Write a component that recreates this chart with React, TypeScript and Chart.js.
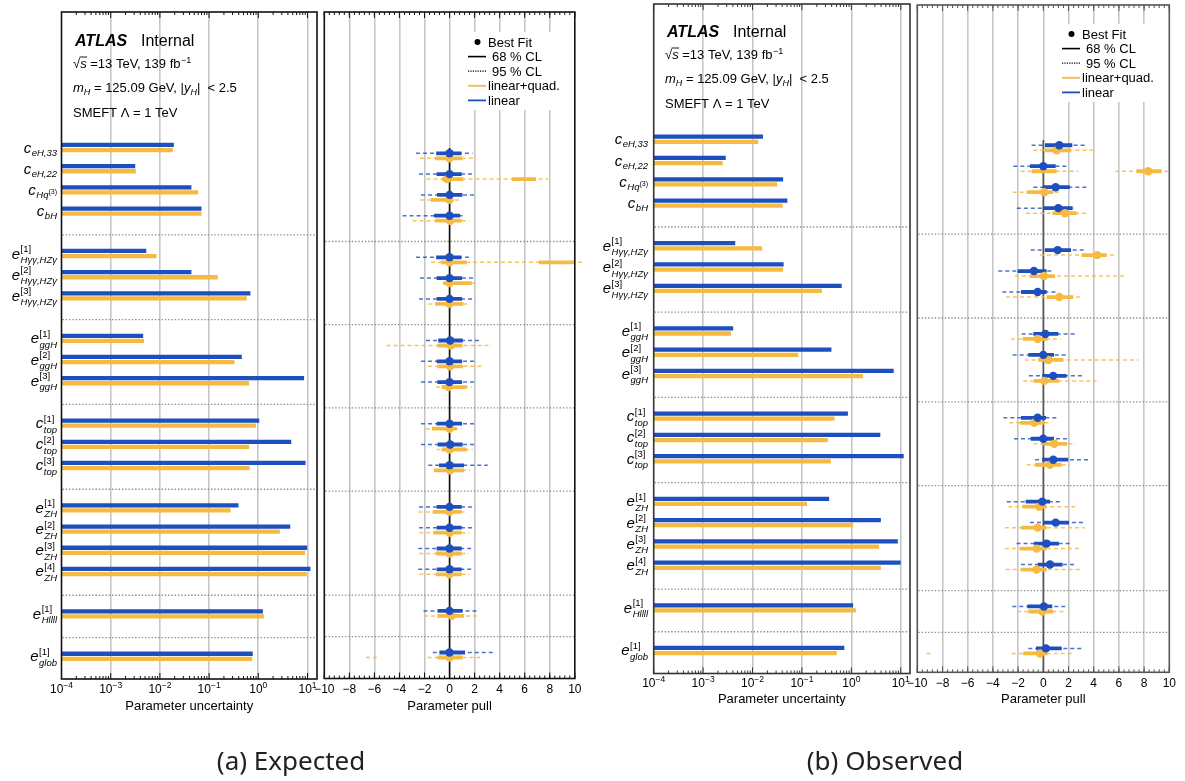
import React, { useEffect, useRef } from "react";
import { Chart, registerables } from "chart.js";

Chart.register(...registerables);

const W = 1185;
const H = 781;
const FONT = '"Liberation Sans", Arial, Helvetica, sans-serif';
const BLUE = "#1e4fbe";
const ORANGE = "#f6ba42";
const BLUE_DASH = "rgba(30,79,190,0.8)";
const ORANGE_DASH = "rgba(246,186,66,0.85)";
const GRID = "#c6c6c6";

// ---------------- categories ----------------
type Lbl = { b: string; sup?: string; sub: string; subSup?: string };
const paramLabels: Lbl[] = [
  { b: "c", sub: "eH,33" },
  { b: "c", sub: "eH,22" },
  { b: "c", sub: "Hq", subSup: "(3)" },
  { b: "c", sub: "bH" },
  { b: "e", sup: "[1]", sub: "Hγγ,HZγ" },
  { b: "e", sup: "[2]", sub: "Hγγ,HZγ" },
  { b: "e", sup: "[3]", sub: "Hγγ,HZγ" },
  { b: "e", sup: "[1]", sub: "ggH" },
  { b: "e", sup: "[2]", sub: "ggH" },
  { b: "e", sup: "[3]", sub: "ggH" },
  { b: "c", sup: "[1]", sub: "top" },
  { b: "c", sup: "[2]", sub: "top" },
  { b: "c", sup: "[3]", sub: "top" },
  { b: "e", sup: "[1]", sub: "ZH" },
  { b: "e", sup: "[2]", sub: "ZH" },
  { b: "e", sup: "[3]", sub: "ZH" },
  { b: "e", sup: "[4]", sub: "ZH" },
  { b: "e", sup: "[1]", sub: "Hllll" },
  { b: "e", sup: "[1]", sub: "glob" },
];
const rowPos = [0, 1, 2, 3, 5, 6, 7, 9, 10, 11, 13, 14, 15, 17, 18, 19, 20, 22, 24];
const groupSeparators = [4, 8, 12, 16, 21, 23];

// ---------------- parameter uncertainty ----------------
const expUncLinear = [0.0189, 0.0031, 0.043, 0.069, 0.0052, 0.043, 0.68, 0.0045, 0.455, 8.4, 1.03, 4.6, 9.0, 0.39, 4.4, 9.7, 11.3, 1.22, 0.76];
const expUncQuad = [0.018, 0.0032, 0.059, 0.069, 0.0084, 0.148, 0.575, 0.0047, 0.323, 0.64, 0.88, 0.64, 0.66, 0.27, 2.7, 8.8, 9.5, 1.28, 0.74];
const obsUncLinear = [0.016, 0.00283, 0.041, 0.05, 0.0044, 0.042, 0.63, 0.004, 0.39, 7.1, 0.84, 3.8, 11.3, 0.35, 3.9, 8.6, 9.8, 1.07, 0.71];
const obsUncQuad = [0.0129, 0.00246, 0.031, 0.04, 0.0155, 0.041, 0.25, 0.0036, 0.083, 1.69, 0.45, 0.33, 0.38, 0.125, 1.07, 3.6, 3.9, 1.22, 0.5];

// ---------------- parameter pulls: expected ----------------
const expBestLinear = [0, 0, 0, 0, 0, 0, 0, 0.05, 0, 0, 0, 0.05, 0, 0, 0, 0, 0, 0, 0];
const expCL68Linear = [[-1.07, 0.95], [-1.03, 0.97], [-1.0, 1.03], [-1.24, 0.84], [-1.07, 0.95], [-1.03, 1.0], [-1.03, 1.0], [-0.9, 1.05], [-1.03, 1.0], [-0.97, 1.0], [-1.03, 1.0], [-0.95, 1.05], [-0.84, 1.16], [-1.03, 0.97], [-1.03, 0.97], [-1.03, 0.97], [-1.03, 0.97], [-0.95, 1.05], [-0.81, 1.24]];
const expCL95Linear = [[-2.68, 1.83], [-2.44, 2.0], [-2.28, 2.17], [-3.75, 1.27], [-2.68, 1.8], [-2.36, 2.1], [-2.44, 2.05], [-1.88, 2.52], [-2.28, 2.17], [-2.28, 2.17], [-2.28, 2.17], [-2.28, 2.17], [-1.7, 3.05], [-2.44, 2.05], [-2.44, 2.05], [-2.5, 1.95], [-2.5, 1.95], [-2.08, 2.38], [-1.34, 3.5]];
const expBestQuad = [0, -0.2, 0, 0.05, 0, 0, 0, 0.1, 0.05, -0.07, 0, 0, 0.05, 0, 0, 0, 0, 0.17, 0];
const expCL68Quad = [[[-1.15, 1.03]], [[-0.6, 1.1], [4.97, 6.9]], [[-1.5, 0.15]], [[-1.15, 0.97]], [[-0.7, 1.37], [7.13, 10]], [[-0.5, 1.77]], [[-1.15, 1.1]], [[-0.97, 1.03]], [[-0.97, 1.05]], [[-0.63, 1.37]], [[-1.4, 0.57]], [[-0.63, 1.37]], [[-1.24, 1.16]], [[-1.34, 0.97]], [[-1.29, 0.97]], [[-1.08, 0.97]], [[-1.08, 0.97]], [[-0.97, 1.16]], [[-0.97, 1.05]]];
const expCL95Quad = [[[-2.36, 1.96]], [[-1.83, 7.9]], [[-2.36, 0.84]], [[-2.95, 1.56]], [[-1.48, 10.8]], [[-0.55, 2.2]], [[-1.7, 1.5]], [[-5.03, 3.37]], [[-1.7, 2.65]], [[-1.08, 1.8]], [[-1.88, 0.97]], [[-1.03, 1.85]], [[-1.24, 1.64]], [[-2.47, 1.45]], [[-2.41, 1.56]], [[-2.41, 1.56]], [[-2.41, 1.56]], [[-2.03, 2.17]], [[-6.67, -5.55], [-1.77, 2.43]]];

// ---------------- parameter pulls: observed ----------------
const obsBestLinear = [1.27, 0, 0.98, 1.19, 1.14, -0.74, -0.45, 0.16, 0, 0.79, -0.45, 0, 0.79, -0.08, 0.98, 0.26, 0.53, 0.05, 0.21];
const obsCL68Linear = [[0.13, 2.3], [-1.06, 0.98], [0, 2.1], [0, 2.33], [0.13, 2.2], [-2.04, 0.26], [-1.77, 0.26], [-0.79, 1.19], [-1.19, 0.85], [-0.08, 1.85], [-1.77, 0.21], [-1.0, 0.85], [-0.08, 1.98], [-1.4, 0.53], [0, 2.04], [-0.74, 1.24], [-0.45, 1.53], [-1.27, 0.71], [-0.58, 1.46]];
const obsCL95Linear = [[-0.93, 3.44], [-2.38, 1.98], [-0.79, 3.57], [-2.1, 2.38], [-1.0, 3.3], [-3.57, 0.85], [-3.25, 1.14], [-1.72, 2.65], [-2.43, 1.93], [-1.14, 3.23], [-3.17, 1.24], [-2.33, 2.12], [-0.66, 3.78], [-2.9, 1.53], [-1.06, 3.3], [-2.12, 2.3], [-1.77, 2.59], [-2.46, 1.93], [-1.19, 3.23]];
const obsBestQuad = [1.06, 8.33, 0.08, 1.72, 4.29, 0.05, 1.27, -0.45, 0.4, 0.08, -0.71, 0.87, 0.53, -0.32, -0.45, -0.53, -0.53, -0.08, -0.26];
const obsCL68Quad = [[[0.13, 2.2]], [[-0.93, 1.06], [7.4, 9.4]], [[-1.32, 0.8]], [[0.74, 2.65]], [[3.04, 5.03]], [[-1.06, 0.93]], [[0.26, 2.38]], [[-1.64, 0.34]], [[-0.4, 1.59]], [[-0.74, 1.24]], [[-1.85, 0.13]], [[0, 1.9]], [[-0.66, 1.46]], [[-1.67, 0.26]], [[-1.77, 0.26]], [[-1.85, 0.26]], [[-1.77, 0.26]], [[-1.19, 0.79]], [[-1.59, 0.34]]];
const obsCL95Quad = [[[-0.79, 4.1]], [[-1.8, 2.78], [5.7, 10]], [[-2.43, 1.4]], [[-1.38, 3.62]], [[-0.26, 5.7]], [[-2.25, 6.6]], [[-2.96, 2.96]], [[-2.57, 1.38]], [[-1.46, 7.54]], [[-1.59, 4.23]], [[-2.7, 0.66]], [[-0.79, 2.57]], [[-1.32, 2.06]], [[-2.78, 2.65]], [[-3.04, 3.3]], [[-3.04, 3.04]], [[-2.99, 3.04]], [[-2.06, 1.85]], [[-9.26, -8.94], [-2.51, 2.46]]];

// ---------------- axis ticks ----------------
const logTickExps = [-4, -3, -2, -1, 0, 1];
const logGridValues = [1e-3, 1e-2, 1e-1, 1, 10];
const pullTickValues = [-10, -8, -6, -4, -2, 0, 2, 4, 6, 8, 10];
const pullGridValues = [-8, -6, -4, -2, 0, 2, 4, 6, 8];

// ---------------- panel geometry ----------------
const GEOM = {
  expUnc: { l: 61.5, r: 317, t: 12, b: 679, yMin: -6.392, yMax: 25.071, xMax: 15.6 },
  expPull: { l: 324.3, r: 574.8, t: 12, b: 678.5, yMin: -6.913, yMax: 25.13 },
  obsUnc: { l: 653.7, r: 910, t: 4, b: 673.5, yMin: -6.347, yMax: 25.08, xMax: 15.4 },
  obsPull: { l: 917.3, r: 1169.3, t: 5, b: 672.3, yMin: -6.81, yMax: 25.02 },
};

// ---------------- drawing helpers ----------------
function setFont(ctx: CanvasRenderingContext2D, size: number, style = "", family = FONT) {
  ctx.font = `${style} ${size}px ${family}`.trim();
}
type Part = { t: string; s: number; st?: string; dy?: number };
function partsWidth(ctx: CanvasRenderingContext2D, parts: Part[]) {
  let w = 0;
  for (const p of parts) {
    setFont(ctx, p.s, p.st || "");
    w += ctx.measureText(p.t).width;
  }
  return w;
}
function drawParts(ctx: CanvasRenderingContext2D, parts: Part[], x: number, y: number, align = "left") {
  const w = partsWidth(ctx, parts);
  let cx = align === "center" ? x - w / 2 : align === "right" ? x - w : x;
  ctx.textAlign = "left";
  ctx.textBaseline = "alphabetic";
  for (const p of parts) {
    setFont(ctx, p.s, p.st || "");
    ctx.fillText(p.t, cx, y + (p.dy || 0));
    cx += ctx.measureText(p.t).width;
  }
}

function drawParamLabel(ctx: CanvasRenderingContext2D, lbl: Lbl, xr: number, yc: number) {
  const BS = 15, SS = 9.5, SSS = 7;
  setFont(ctx, BS, "italic");
  const wb = ctx.measureText(lbl.b).width;
  setFont(ctx, SS, "italic");
  const wsubMain = ctx.measureText(lbl.sub).width;
  let wsubSup = 0;
  if (lbl.subSup) {
    setFont(ctx, SSS);
    wsubSup = ctx.measureText(lbl.subSup).width;
  }
  let wsup = 0;
  if (lbl.sup) {
    setFont(ctx, SS);
    wsup = ctx.measureText(lbl.sup).width;
  }
  const x0 = xr - wb - 0.5 - Math.max(wsubMain + wsubSup, wsup);
  ctx.fillStyle = "#000";
  ctx.textAlign = "left";
  ctx.textBaseline = "alphabetic";
  setFont(ctx, BS, "italic");
  ctx.fillText(lbl.b, x0, yc + 5);
  const xs = x0 + wb + 0.5;
  setFont(ctx, SS, "italic");
  ctx.fillText(lbl.sub, xs, yc + (lbl.sup ? 9.5 : 8));
  if (lbl.subSup) {
    setFont(ctx, SSS);
    ctx.fillText(lbl.subSup, xs + wsubMain, yc + 4);
  }
  if (lbl.sup) {
    setFont(ctx, SS);
    ctx.fillText(lbl.sup, xs, yc - 1.5);
  }
}

function drawAtlasBlock(ctx: CanvasRenderingContext2D, xAtlas: number, x: number, y: number) {
  ctx.fillStyle = "#000";
  ctx.textAlign = "left";
  ctx.textBaseline = "alphabetic";
  setFont(ctx, 16, "italic bold");
  ctx.fillText("ATLAS", xAtlas, y);
  setFont(ctx, 16);
  ctx.fillText("Internal", xAtlas + 66, y);
  // sqrt(s) line
  const y2 = y + 22;
  let cx = x;
  setFont(ctx, 13);
  ctx.fillText("√", cx, y2);
  cx += ctx.measureText("√").width;
  setFont(ctx, 13, "italic");
  const ws = ctx.measureText("s").width;
  ctx.fillText("s", cx, y2);
  ctx.strokeStyle = "#000";
  ctx.lineWidth = 0.9;
  ctx.setLineDash([]);
  ctx.beginPath();
  ctx.moveTo(cx - 0.5, y2 - 11);
  ctx.lineTo(cx + ws + 0.5, y2 - 11);
  ctx.stroke();
  cx += ws;
  setFont(ctx, 13);
  ctx.fillText(" =13 TeV, 139 fb", cx, y2);
  cx += ctx.measureText(" =13 TeV, 139 fb").width;
  setFont(ctx, 9);
  ctx.fillText("−1", cx + 0.5, y2 - 5);
  drawParts(
    ctx,
    [
      { t: "m", s: 13, st: "italic" },
      { t: "H", s: 9, st: "italic", dy: 3 },
      { t: " = 125.09 GeV, |", s: 13 },
      { t: "y", s: 13, st: "italic" },
      { t: "H", s: 9, st: "italic", dy: 3 },
      { t: "|  < 2.5", s: 13 },
    ],
    x,
    y + 46
  );
  setFont(ctx, 13);
  ctx.fillText("SMEFT Λ = 1 TeV", x, y + 71);
}

function drawFrame(ctx: CanvasRenderingContext2D, a: any, color: string) {
  ctx.save();
  ctx.strokeStyle = color;
  ctx.lineWidth = 1.6;
  ctx.setLineDash([]);
  ctx.strokeRect(a.left, a.top, a.right - a.left, a.bottom - a.top);
  ctx.restore();
}

function drawSeparators(ctx: CanvasRenderingContext2D, chart: any) {
  const a = chart.chartArea;
  const ys = chart.scales.y;
  ctx.save();
  ctx.strokeStyle = "#8c8c8c";
  ctx.lineWidth = 1.3;
  ctx.setLineDash([1.4, 1.9]);
  for (const s of groupSeparators) {
    const py = ys.getPixelForValue(s + 0.12);
    ctx.beginPath();
    ctx.moveTo(a.left + 1, py);
    ctx.lineTo(a.right - 1, py);
    ctx.stroke();
  }
  ctx.restore();
}

function drawTickMarks(ctx: CanvasRenderingContext2D, a: any, xs: number[], len: number, color: string) {
  ctx.save();
  ctx.strokeStyle = color;
  ctx.lineWidth = 1;
  ctx.setLineDash([]);
  ctx.beginPath();
  for (const px of xs) {
    ctx.moveTo(px, a.bottom);
    ctx.lineTo(px, a.bottom - len);
    ctx.moveTo(px, a.top);
    ctx.lineTo(px, a.top + len);
  }
  ctx.stroke();
  ctx.restore();
}

// ---------------- chart configs ----------------
function makeUncConfig(
  g: any,
  lin: number[],
  quad: number[],
  opts: { frame: string; labelX: number; atlasX: number; textX: number; atlasY: number; caption: string; captionX: number; tickY: number; titleY: number }
) {
  const deco = {
    id: "uncDeco",
    beforeDatasetsDraw(chart: any) {
      drawSeparators(chart.ctx, chart);
    },
    afterDatasetsDraw(chart: any) {
      const ctx = chart.ctx as CanvasRenderingContext2D;
      const a = chart.chartArea;
      const xs = chart.scales.x;
      const ys = chart.scales.y;
      const major: number[] = [];
      const minor: number[] = [];
      for (const e of logTickExps) {
        major.push(xs.getPixelForValue(Math.pow(10, e)));
        for (let m = 2; m <= 9; m++) {
          const v = m * Math.pow(10, e);
          if (v <= g.xMax) minor.push(xs.getPixelForValue(v));
        }
      }
      drawTickMarks(ctx, a, major, 6, opts.frame);
      drawTickMarks(ctx, a, minor, 3, opts.frame);
      drawFrame(ctx, a, opts.frame);
      ctx.fillStyle = "#000";
      for (const e of logTickExps) {
        const px = xs.getPixelForValue(Math.pow(10, e));
        const ex = e < 0 ? "−" + Math.abs(e) : String(e);
        drawParts(ctx, [{ t: "10", s: 12 }, { t: ex, s: 8.5, dy: -5 }], px, opts.tickY, "center");
      }
      setFont(ctx, 13);
      ctx.textAlign = "center";
      ctx.fillText("Parameter uncertainty", (a.left + a.right) / 2, opts.titleY);
      paramLabels.forEach((lbl, i) => {
        drawParamLabel(ctx, lbl, opts.labelX, ys.getPixelForValue(rowPos[i]));
      });
      drawAtlasBlock(ctx, opts.atlasX, opts.textX, opts.atlasY);
      ctx.fillStyle = "#222";
      ctx.textAlign = "center";
      ctx.font = '26px "Noto Sans", "Open Sans", sans-serif';
      ctx.fillText(opts.caption, opts.captionX, 770);
    },
  };
  return {
    type: "bar",
    data: {
      datasets: [
        {
          label: "linear",
          data: lin.map((v, i) => ({ x: v, y: rowPos[i] - 0.12 })),
          backgroundColor: BLUE,
          borderWidth: 0,
          barThickness: 3.6,
          grouped: false,
          base: 1e-4,
          order: 2,
        },
        {
          label: "linear+quad.",
          data: quad.map((v, i) => ({ x: v, y: rowPos[i] + 0.12 })),
          backgroundColor: ORANGE,
          borderWidth: 0,
          barThickness: 3.6,
          grouped: false,
          base: 1e-4,
          order: 1,
        },
      ],
    },
    options: {
      indexAxis: "y",
      responsive: false,
      animation: false,
      devicePixelRatio: 1,
      events: [],
      layout: { padding: { left: g.l, right: W - g.r, top: g.t, bottom: H - g.b } },
      plugins: { legend: { display: false }, tooltip: { enabled: false } },
      scales: {
        x: {
          type: "logarithmic",
          position: "bottom",
          min: 1e-4,
          max: g.xMax,
          afterBuildTicks: (s: any) => {
            s.ticks = logGridValues.map((v) => ({ value: v }));
          },
          afterFit: (s: any) => {
            s.height = 0;
          },
          ticks: { display: false },
          grid: { color: GRID, lineWidth: 1.6, drawTicks: false },
          border: { display: false },
        },
        y: {
          type: "linear",
          min: g.yMin,
          max: g.yMax,
          reverse: true,
          display: false,
          offset: false,
          grid: { offset: false },
        },
      },
    },
    plugins: [deco],
  };
}

function segLine(segs: number[][][], pos: number[]) {
  const out: any[] = [];
  segs.forEach((list, i) =>
    list.forEach(([a, b]) => {
      out.push({ x: a, y: pos[i] }, { x: b, y: pos[i] }, { x: null, y: null });
    })
  );
  return out;
}

function makePullConfig(
  g: any,
  bestLin: number[],
  c68Lin: number[][],
  c95Lin: number[][],
  bestQuad: number[],
  c68Quad: number[][][],
  c95Quad: number[][][],
  opts: { frame: string; zero: string; legX: number; legY: number; tickY: number; titleY: number }
) {
  const posL = rowPos.map((r) => r - 0.12);
  const posQ = rowPos.map((r) => r + 0.12);
  const line = (data: any[], color: string, w: number, dash: number[], order: number) => ({
    data,
    showLine: true,
    borderColor: color,
    borderWidth: w,
    borderDash: dash,
    borderCapStyle: "butt",
    pointRadius: 0,
    pointHoverRadius: 0,
    spanGaps: false,
    clip: false,
    order,
  });
  const dots = (data: any[], color: string, order: number) => ({
    data,
    showLine: false,
    pointRadius: 4.2,
    pointHoverRadius: 4.2,
    pointBackgroundColor: color,
    backgroundColor: color,
    pointBorderWidth: 0,
    borderWidth: 0,
    order,
  });
  const deco = {
    id: "pullDeco",
    beforeDatasetsDraw(chart: any) {
      const ctx = chart.ctx as CanvasRenderingContext2D;
      const a = chart.chartArea;
      const xs = chart.scales.x;
      const ys = chart.scales.y;
      ctx.save();
      ctx.fillStyle = "#fff";
      ctx.fillRect(opts.legX - 5, opts.legY - 10, 109, 78);
      ctx.restore();
      drawSeparators(ctx, chart);
      ctx.save();
      ctx.strokeStyle = opts.zero;
      ctx.lineWidth = 1.6;
      ctx.beginPath();
      const px = xs.getPixelForValue(0);
      ctx.moveTo(px, ys.getPixelForValue(-0.37));
      ctx.lineTo(px, a.bottom);
      ctx.stroke();
      ctx.restore();
    },
    afterDatasetsDraw(chart: any) {
      const ctx = chart.ctx as CanvasRenderingContext2D;
      const a = chart.chartArea;
      const xs = chart.scales.x;
      const major = pullTickValues.map((v) => xs.getPixelForValue(v));
      const minor: number[] = [];
      for (let v = -10; v <= 10.001; v += 0.4) minor.push(xs.getPixelForValue(v));
      drawTickMarks(ctx, a, major, 6, opts.frame);
      drawTickMarks(ctx, a, minor, 3, opts.frame);
      drawFrame(ctx, a, opts.frame);
      ctx.fillStyle = "#000";
      ctx.textAlign = "center";
      ctx.textBaseline = "alphabetic";
      setFont(ctx, 12);
      for (const v of pullTickValues) {
        const t = v < 0 ? "−" + Math.abs(v) : String(v);
        ctx.fillText(t, xs.getPixelForValue(v), opts.tickY);
      }
      setFont(ctx, 13);
      ctx.fillText("Parameter pull", (a.left + a.right) / 2, opts.titleY);
      const x0 = opts.legX;
      const y0 = opts.legY;
      const dy = 14.6;
      ctx.save();
      ctx.fillStyle = "#000";
      ctx.beginPath();
      ctx.arc(x0 + 9.5, y0, 3, 0, Math.PI * 2);
      ctx.fill();
      const seg = (y: number, color: string, w: number, dash: number[]) => {
        ctx.strokeStyle = color;
        ctx.lineWidth = w;
        ctx.setLineDash(dash);
        ctx.beginPath();
        ctx.moveTo(x0, y);
        ctx.lineTo(x0 + 18, y);
        ctx.stroke();
      };
      seg(y0 + dy, "#000", 1.6, []);
      seg(y0 + 2 * dy, "#000", 1.2, [1.2, 1.2]);
      seg(y0 + 3 * dy, ORANGE, 1.8, []);
      seg(y0 + 4 * dy, BLUE, 1.8, []);
      ctx.setLineDash([]);
      ctx.fillStyle = "#000";
      ctx.textAlign = "left";
      setFont(ctx, 13);
      ctx.fillText("Best Fit", x0 + 20, y0 + 4.5);
      ctx.fillText("68 % CL", x0 + 24, y0 + dy + 4.5);
      ctx.fillText("95 % CL", x0 + 24, y0 + 2 * dy + 4.5);
      ctx.fillText("linear+quad.", x0 + 20, y0 + 3 * dy + 4.5);
      ctx.fillText("linear", x0 + 20, y0 + 4 * dy + 4.5);
      ctx.restore();
    },
  };
  return {
    type: "scatter",
    data: {
      datasets: [
        line(segLine(c95Quad, posQ), ORANGE_DASH, 1.5, [4, 3], 6),
        line(segLine(c95Lin.map((s) => [s]), posL), BLUE_DASH, 1.5, [4, 3], 5),
        line(segLine(c68Quad, posQ), ORANGE, 3.8, [], 4),
        line(segLine(c68Lin.map((s) => [s]), posL), BLUE, 3.8, [], 3),
        dots(bestQuad.map((v, i) => ({ x: v, y: posQ[i] })), ORANGE, 2),
        dots(bestLin.map((v, i) => ({ x: v, y: posL[i] })), BLUE, 1),
      ],
    },
    options: {
      responsive: false,
      animation: false,
      devicePixelRatio: 1,
      events: [],
      layout: { padding: { left: g.l, right: W - g.r, top: g.t, bottom: H - g.b } },
      plugins: { legend: { display: false }, tooltip: { enabled: false } },
      scales: {
        x: {
          type: "linear",
          position: "bottom",
          min: -10,
          max: 10,
          afterBuildTicks: (s: any) => {
            s.ticks = pullGridValues.map((v) => ({ value: v }));
          },
          afterFit: (s: any) => {
            s.height = 0;
          },
          ticks: { display: false },
          grid: { color: GRID, lineWidth: 1.6, drawTicks: false },
          border: { display: false },
        },
        y: {
          type: "linear",
          min: g.yMin,
          max: g.yMax,
          reverse: true,
          display: false,
        },
      },
    },
    plugins: [deco],
  };
}

const makers: (() => any)[] = [
  () =>
    makeUncConfig(GEOM.expUnc, expUncLinear, expUncQuad, {
      frame: "#111",
      labelX: 57,
      atlasX: 75,
      textX: 73,
      atlasY: 46,
      caption: "(a) Expected",
      captionX: 291,
      tickY: 693,
      titleY: 710,
    }),
  () =>
    makePullConfig(GEOM.expPull, expBestLinear, expCL68Linear, expCL95Linear, expBestQuad, expCL68Quad, expCL95Quad, {
      frame: "#111",
      zero: "#111",
      legX: 468,
      legY: 42,
      tickY: 693,
      titleY: 710,
    }),
  () =>
    makeUncConfig(GEOM.obsUnc, obsUncLinear, obsUncQuad, {
      frame: "#333",
      labelX: 648,
      atlasX: 667,
      textX: 665,
      atlasY: 37,
      caption: "(b) Observed",
      captionX: 885,
      tickY: 687,
      titleY: 703,
    }),
  () =>
    makePullConfig(GEOM.obsPull, obsBestLinear, obsCL68Linear, obsCL95Linear, obsBestQuad, obsCL68Quad, obsCL95Quad, {
      frame: "#555",
      zero: "#555",
      legX: 1062,
      legY: 34,
      tickY: 687,
      titleY: 703,
    }),
];

function ChartLayer({ make }: { make: () => any }) {
  const ref = useRef<HTMLCanvasElement>(null);
  useEffect(() => {
    const chart = new Chart(ref.current as HTMLCanvasElement, make());
    return () => chart.destroy();
  }, [make]);
  return (
    <canvas
      ref={ref}
      width={W}
      height={H}
      style={{ position: "absolute", left: 0, top: 0, width: W, height: H }}
    />
  );
}

export default function App() {
  return (
    <div
      style={{
        position: "absolute",
        left: 0,
        top: 0,
        width: W,
        height: H,
        background: "#fff",
        overflow: "hidden",
      }}
    >
      {makers.map((m, i) => (
        <ChartLayer key={i} make={m} />
      ))}
    </div>
  );
}
